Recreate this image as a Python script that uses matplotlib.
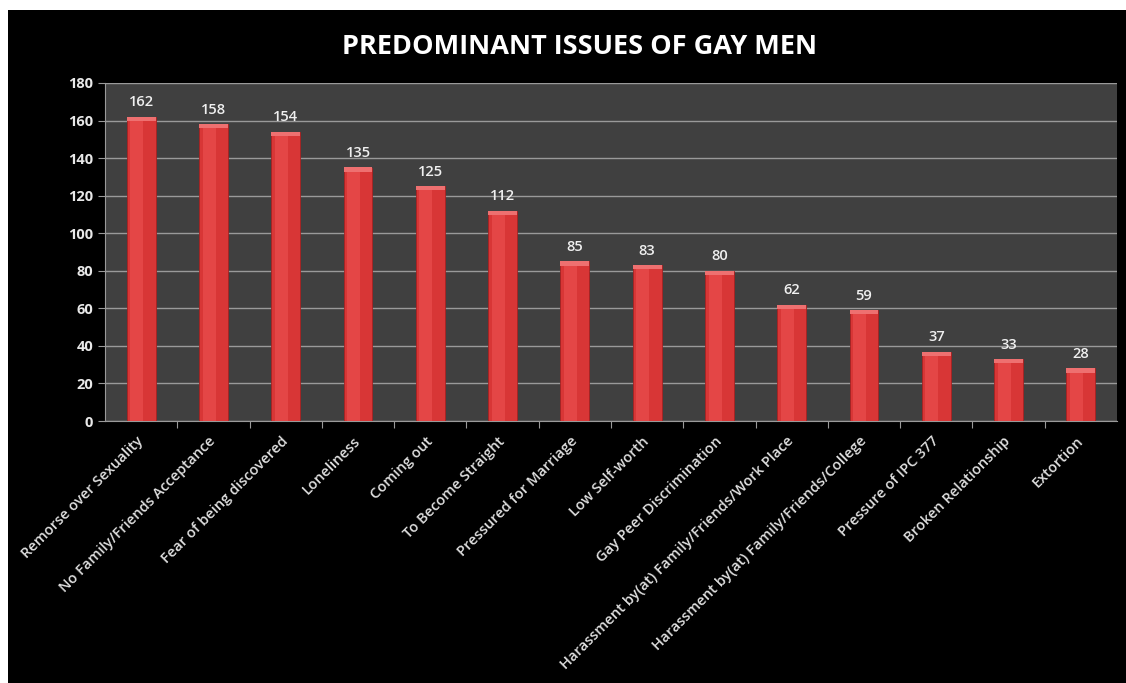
import matplotlib.pyplot as plt
from matplotlib.patches import Rectangle

# chart data
issues = ['Remorse over Sexuality', 'No Family/Friends Acceptance', 'Fear of being discovered',
          'Loneliness', 'Coming out', 'To Become Straight', 'Pressured for Marriage',
          'Low Self-worth', 'Gay Peer Discrimination',
          'Harassment by(at) Family/Friends/Work Place',
          'Harassment by(at) Family/Friends/College', 'Pressure of IPC 377',
          'Broken Relationship', 'Extortion']
counts = [162, 158, 154, 135, 125, 112, 85, 83, 80, 62, 59, 37, 33, 28]
yticks = [0, 20, 40, 60, 80, 100, 120, 140, 160, 180]

plt.rcParams['font.family'] = ['Open Sans', 'DejaVu Sans']

fig = plt.figure(figsize=(11.26, 6.83), dpi=100, facecolor='white')
# black chart background with a thin white margin top/left
fig.patches.append(Rectangle((8 / 1126, 0), 1, 673 / 683, transform=fig.transFigure,
                             facecolor='black', edgecolor='none', zorder=-10))

ax = fig.add_axes([105 / 1126, 1 - 421 / 683, 1012 / 1126, 338 / 683])
ax.set_facecolor('#404040')

x = list(range(len(issues)))
ax.bar(x, counts, width=0.40, color='#d83636', edgecolor='#a82222',
       linewidth=0.6, zorder=3)
# lighter highlight on the left half of each bar
ax.bar([i - 0.06 for i in x], counts, width=0.18, color='#e44646',
       linewidth=0, zorder=3)
# light cap at the top of each bar
ax.bar(x, [2.2] * len(x), bottom=[c - 2.2 for c in counts], width=0.40,
       color='#ee7070', linewidth=0, zorder=3)

for xi, v in zip(x, counts):
    ax.text(xi, v + 4, str(v), ha='center', va='bottom', color='#f0f0f0',
            fontsize=10.5, fontweight='semibold', zorder=4)

ax.set_xlim(-0.5, len(issues) - 0.5)
ax.set_ylim(0, 180)
ax.set_yticks(yticks)
ax.set_yticklabels([str(t) for t in yticks], color='#e8e8e8', fontsize=10.5,
                   fontweight='bold')
ax.yaxis.grid(True, color='#9a9a9a', linewidth=1.0, zorder=1)
ax.set_axisbelow(True)

ax.set_xticks([i + 0.5 for i in x[:-1]], minor=False)
ax.set_xticklabels([])
ax.set_xticks(x, minor=True)
ax.set_xticklabels(issues, minor=True, rotation=45, ha='right', va='center',
                   rotation_mode='anchor', color='#e0e0e0', fontsize=10.5,
                   fontweight='semibold')
ax.tick_params(axis='x', which='minor', length=0, pad=13)
ax.tick_params(axis='x', which='major', length=5, color='#9a9a9a')
ax.tick_params(axis='y', length=5, color='#9a9a9a')

for s in ['top', 'right']:
    ax.spines[s].set_visible(False)
ax.spines['left'].set_color('#9a9a9a')
ax.spines['bottom'].set_color('#9a9a9a')

fig.text(580 / 1126, 1 - 47 / 683, 'PREDOMINANT ISSUES OF GAY MEN', ha='center',
         va='center', color='white', fontsize=19.5, fontweight='bold')

fig.savefig('out.png', dpi=100, facecolor='white')
